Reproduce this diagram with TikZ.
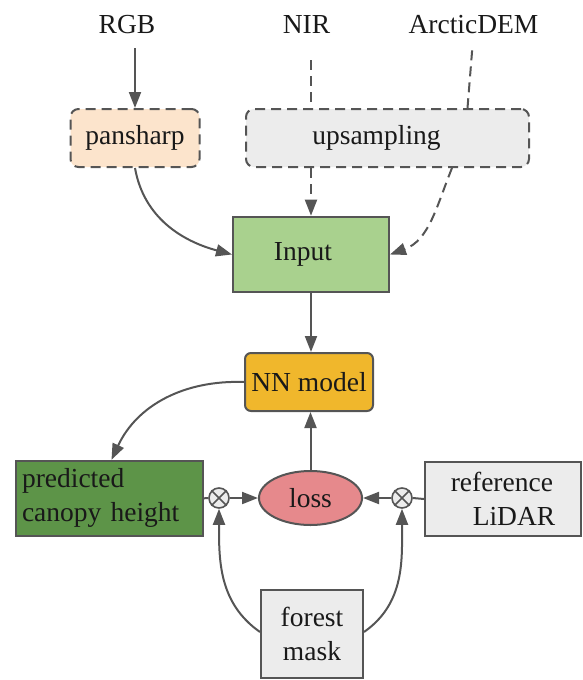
\documentclass[tikz,border=0pt]{standalone}
\usepackage{fontspec}
\setmainfont{Liberation Serif}
\usetikzlibrary{arrows.meta,shapes.geometric}
\definecolor{linec}{HTML}{555555}
\definecolor{peach}{HTML}{FCE4CC}
\definecolor{lgrey}{HTML}{ECECEC}
\definecolor{lgreen}{HTML}{A9D18E}
\definecolor{gold}{HTML}{F0B72C}
\definecolor{dgreen}{HTML}{5D9448}
\definecolor{lred}{HTML}{E6898C}
\tikzset{
  txt/.style={font=\fontsize{27.5pt}{34pt}\selectfont, text=black!90},
  box/.style={txt, draw=linec, line width=2pt, inner sep=0pt, align=center},
  dbox/.style={box, dash pattern=on 10pt off 6pt, rounded corners=8pt},
  ln/.style={draw=linec, line width=2pt},
  dln/.style={ln, dash pattern=on 10pt off 6pt},
  arr/.style={ln, -{Triangle[length=16pt,width=12pt]}},
  darr/.style={dln, -{Triangle[length=16pt,width=12pt]}},
  otimes/.style={circle, draw=linec, fill=lgrey, line width=1.6pt, minimum size=20pt, inner sep=0pt},
}
\begin{document}
\begin{tikzpicture}[x=1pt,y=1pt]
\useasboundingbox (0,0) rectangle (582,-680);
% top labels
\node[txt, anchor=base, inner sep=0pt] (rgb) at (127,-33) {RGB};
\node[txt, anchor=base, inner sep=0pt] (nir) at (306.5,-33) {NIR};
\node[txt, anchor=base, inner sep=0pt] (dem) at (473.5,-33) {ArcticDEM};
% boxes
\node[dbox, fill=peach, minimum width=129pt, minimum height=58pt] (pan) at (135,-138) {pansharp};
\node[dbox, fill=lgrey, minimum width=283pt, minimum height=58pt] (up) at (387.5,-138) {upsampling\hspace*{22pt}};
\node[box, fill=lgreen, minimum width=156pt, minimum height=75.6pt] (inp) at (311,-254.5) {Input\hspace*{16pt}};
\node[box, fill=gold, rounded corners=6pt, minimum width=128pt, minimum height=58pt] (nn) at (309,-382) {NN model};
\node[box, fill=dgreen, minimum width=187pt, minimum height=75pt, text width=175pt, align=left] (pred) at (109.5,-498.3) {predicted\\canopy height};
\node[box, ellipse, fill=lred, minimum width=103pt, minimum height=54pt] (loss) at (310.5,-498) {loss};
\node[box, fill=lgrey, minimum width=156pt, minimum height=74pt, align=left] (lidar) at (503,-499) {reference\\\hspace*{22pt}LiDAR};
\node[box, fill=lgrey, minimum width=102pt, minimum height=88pt] (mask) at (312,-634) {forest\\mask};
\node[otimes] (cl) at (219,-498) {};
\node[otimes] (cr) at (402,-498) {};
\draw[linec, line width=1.6pt] (cl.north west) -- (cl.south east) (cl.north east) -- (cl.south west);
\draw[linec, line width=1.6pt] (cr.north west) -- (cr.south east) (cr.north east) -- (cr.south west);
% connectors
\draw[arr, shorten <=15pt] (rgb.south -| pan.north) -- (pan.north);
\draw[dln, shorten <=27pt] (nir.south -| inp.north) -- (up.north -| inp.north);
\draw[darr] (up.south -| inp.north) -- (inp.north);
\draw[dln, shorten <=17pt] (dem.south) -- ([xshift=80pt]up.north);
\draw[darr] ([xshift=64.5pt]up.south) to[out=-112, in=20] (inp.east);
\draw[arr] (pan.south) to[out=-80, in=165] (inp.west);
\draw[arr] (inp.south) -- (inp.south |- nn.north);
\draw[arr] (nn.west) to[out=178, in=65] ([xshift=2pt]pred.north);
\draw[arr] (loss.north) -- (loss.north |- nn.south);
\draw[ln] (pred.east) -- (cl.west);
\draw[arr] (cl.east) -- (loss.west);
\draw[ln] (lidar.west) -- (cr.east);
\draw[arr] (cr.west) -- (loss.east);
\draw[arr] ([yshift=2pt]mask.west) to[out=145, in=-90] (cl.south);
\draw[arr] ([yshift=2pt]mask.east) to[out=35, in=-90] (cr.south);
\end{tikzpicture}
\end{document}
